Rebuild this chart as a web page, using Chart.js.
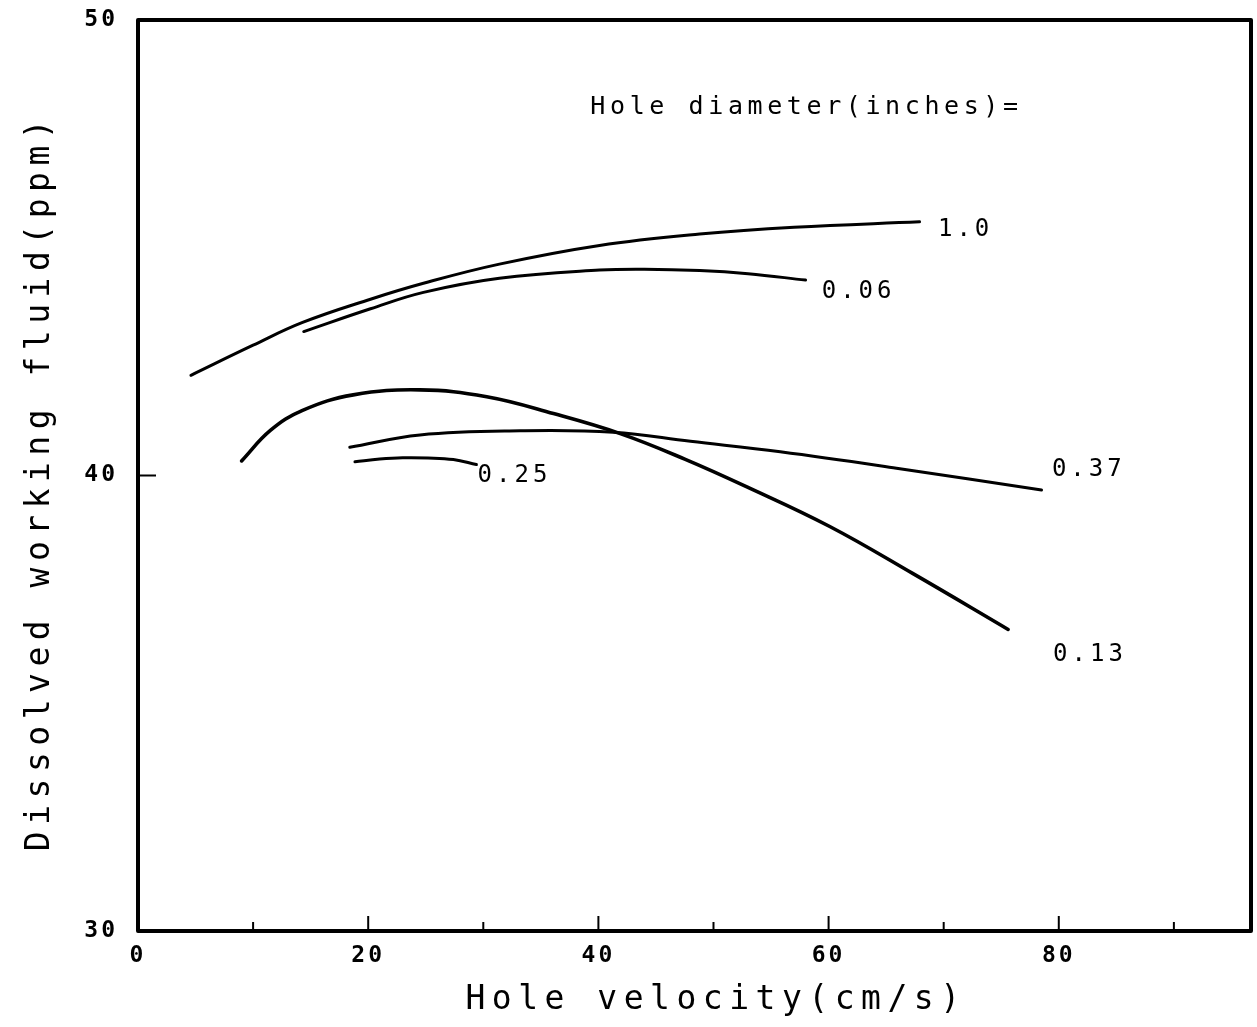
<!DOCTYPE html>
<html>
<head>
<meta charset="utf-8">
<script src="https://cdn.jsdelivr.net/npm/chart.js@4.4.1/dist/chart.umd.min.js"></script>
<style>
  html, body { margin: 0; padding: 0; background: #fff; }
  #wrap { width: 1257px; height: 1027px; }
</style>
</head>
<body>
<div id="wrap"><canvas id="c" width="1257" height="1027"></canvas></div>
<script>
// ---- data ----
const seriesNames = ["1.0", "0.06", "0.13", "0.37", "0.25"];

const d10_x  = [4.6, 10.0, 14.3, 20.2, 24.8, 31.4, 40.1, 48.8, 57.0, 67.9];
const d10_y  = [42.20, 42.86, 43.36, 43.87, 44.22, 44.64, 45.05, 45.30, 45.45, 45.57];

const d006_x = [14.4, 20.2, 24.8, 31.4, 40.1, 44.0, 48.8, 53.0, 58.0];
const d006_y = [43.16, 43.66, 44.02, 44.33, 44.51, 44.53, 44.50, 44.43, 44.29];

const d013_x = [9.0, 11.5, 14.3, 18.7, 24.5, 30.3, 36.1, 41.9, 47.5, 52.9, 60.1, 67.3, 75.6];
const d013_y = [40.32, 40.99, 41.43, 41.77, 41.88, 41.73, 41.36, 40.92, 40.36, 39.75, 38.88, 37.85, 36.62];

const d037_x = [18.4, 24.5, 33.2, 41.3, 48.0, 55.8, 65.9, 78.5];
const d037_y = [40.62, 40.89, 40.98, 40.95, 40.75, 40.52, 40.16, 39.68];

const d025_x = [18.85, 21.0, 23.0, 25.2, 27.4, 29.4];
const d025_y = [40.30, 40.36, 40.39, 40.385, 40.35, 40.24];

const xTickLabels = ["0", "20", "40", "60", "80"];
const yTickLabels = ["30", "40", "50"];

// curve label anchors (data coordinates: x of left edge, y of centre)
const curveLabelText = ["1.0", "0.06", "0.25", "0.37", "0.13"];
const curveLabelX    = [69.5, 59.4, 29.5, 79.4, 79.5];
const curveLabelY    = [45.39, 44.03, 39.99, 40.12, 36.06];
const legendTitle = "Hole diameter(inches)=";
const legendX = 39.3, legendY = 48.07;

const xTitle = "Hole velocity(cm/s)";
const yTitle = "Dissolved working fluid(ppm)";

// ---- build datasets ----
function pts(xs, ys) { return xs.map((x, i) => ({ x: x, y: ys[i] })); }
const allSeries = [pts(d10_x, d10_y), pts(d006_x, d006_y), pts(d013_x, d013_y), pts(d037_x, d037_y), pts(d025_x, d025_y)];
const widths = [3, 3, 3.6, 3, 3];

const FONT = "'DejaVu Sans Mono', 'Liberation Mono', monospace";

const spacing = {
  id: 'spacing',
  beforeDraw(chart) { chart.ctx.letterSpacing = '3px'; }
};

const decor = {
  id: 'decor',
  afterDraw(chart) {
    const ctx = chart.ctx;
    const a = chart.chartArea;
    const xs = chart.scales.x, ys = chart.scales.y;
    ctx.save();
    // frame
    ctx.strokeStyle = '#000';
    ctx.lineWidth = 4;
    ctx.lineJoin = 'round';
    ctx.strokeRect(a.left, a.top, a.right - a.left, a.bottom - a.top);
    // x ticks (inward)
    ctx.lineWidth = 2;
    for (let v = 10; v <= 90; v += 10) {
      const px = xs.getPixelForValue(v);
      const len = (v % 20 === 0) ? 15 : 9;
      ctx.beginPath();
      ctx.moveTo(px, a.bottom);
      ctx.lineTo(px, a.bottom - len);
      ctx.stroke();
    }
    // y tick at 40 (inward)
    const py = ys.getPixelForValue(40);
    ctx.beginPath();
    ctx.moveTo(a.left, py);
    ctx.lineTo(a.left + 18, py);
    ctx.stroke();

    ctx.fillStyle = '#000';
    // curve labels
    ctx.font = "24px " + FONT;
    ctx.letterSpacing = "4px";
    ctx.textAlign = 'left';
    ctx.textBaseline = 'middle';
    curveLabelText.forEach((t, i) => {
      ctx.fillText(t, xs.getPixelForValue(curveLabelX[i]), ys.getPixelForValue(curveLabelY[i]));
    });
    ctx.font = "25px " + FONT;
    ctx.letterSpacing = "4.6px";
    ctx.fillText(legendTitle, xs.getPixelForValue(legendX), ys.getPixelForValue(legendY));

    // axis titles
    ctx.font = "33px " + FONT;
    ctx.letterSpacing = "6.5px";
    ctx.textAlign = 'center';
    ctx.textBaseline = 'middle';
    ctx.fillText(xTitle, 716, 1000);
    ctx.translate(40, 482);
    ctx.rotate(-Math.PI / 2);
    ctx.fillText(yTitle, 0, 0);
    ctx.restore();
  }
};

new Chart(document.getElementById('c'), {
  type: 'scatter',
  data: {
    datasets: allSeries.map((d, i) => ({
      label: seriesNames[i],
      data: d,
      showLine: true,
      borderColor: '#000',
      backgroundColor: '#000',
      borderWidth: widths[i],
      pointRadius: 0,
      tension: 0.4,
      borderCapStyle: 'round',
      borderJoinStyle: 'round',
      fill: false
    }))
  },
  options: {
    responsive: false,
    animation: false,
    devicePixelRatio: 1,
    layout: { padding: { top: 20, right: 6, left: 0, bottom: 0 } },
    plugins: { legend: { display: false }, tooltip: { enabled: false }, title: { display: false } },
    scales: {
      x: {
        type: 'linear',
        min: 0, max: 96.7,
        grid: { display: false, drawTicks: false },
        border: { display: false },
        ticks: {
          stepSize: 10,
          padding: 11,
          color: '#000',
          font: { family: FONT, size: 23, weight: 'bold' },
          maxRotation: 0,
          autoSkip: false,
          callback: (v) => {
            const s = String(Math.round(v));
            return (Math.abs(v - Math.round(v)) < 1e-6 && xTickLabels.includes(s)) ? s : '';
          }
        },
        afterFit: (s) => { s.height = 96; s.paddingLeft = 0; s.paddingRight = 0; }
      },
      y: {
        type: 'linear',
        min: 30, max: 50,
        grid: { display: false, drawTicks: false },
        border: { display: false },
        ticks: {
          stepSize: 10,
          padding: 20,
          color: '#000',
          font: { family: FONT, size: 23, weight: 'bold' },
          callback: (v) => { const s = String(v); return yTickLabels.includes(s) ? s : ''; }
        },
        afterFit: (s) => { s.width = 138; s.paddingTop = 0; s.paddingBottom = 0; }
      }
    }
  },
  plugins: [spacing, decor]
});
</script>
</body>
</html>
